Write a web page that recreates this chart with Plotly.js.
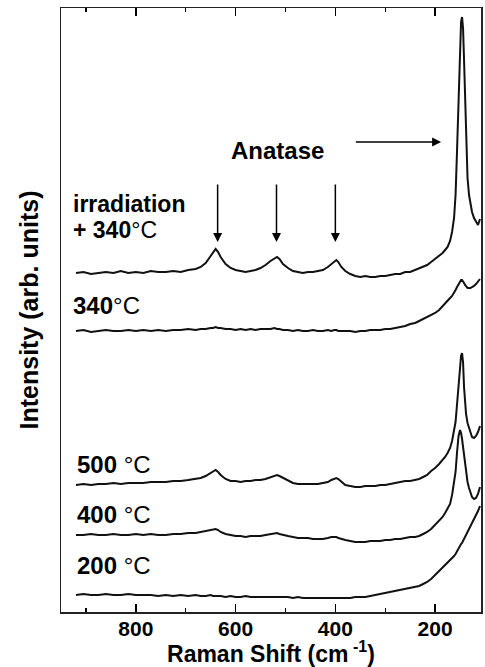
<!DOCTYPE html>
<html>
<head>
<meta charset="utf-8">
<script src="https://cdn.plot.ly/plotly-3.0.1.min.js"></script>
<style>html,body{margin:0;padding:0;background:#fff;}#chart{width:485px;height:667px;}</style>
</head>
<body>
<div id="chart"></div>
<script>
// Raman shift (cm^-1), shared by all spectra
const ramanShift = [920,905,890,875,860,845,830,815,800,785,770,755,740,725,710,695,680,
  670,660,650,645,640,635,630,620,610,600,
  590,580,570,560,550,540,530,522,517,512,505,
  495,485,475,465,455,445,435,425,415,408,402,398,394,388,380,
  370,360,350,340,330,320,310,300,290,280,270,260,250,240,232,224,216,208,200,
  192,185,180,175,170,166,162,159,156,153,150,148,146,144,142,140,138,135,132,129,126,122,118,114,110];

// Intensities (arb. units, offset stacked)
const irr340 = [339,340,338,339,340,339,341,339,340,339,341,340,340,341,340,342,343,
  345,349,356,360,363,360,355,348,344,342,
  341,340,341,342,344,347,351,354,355,353,348,
  344,341,340,339,340,340,341,342,345,348,351,352,350,345,341,
  338,336,335,336,335,335,336,336,337,338,338,340,340,342,343,345,347,350,353,
  356,359,362,365,371,380,394,417,462,517,567,590,595,584,552,512,467,434,417,407,400,394,390,387,393];

const t340 = [281,282,280,281,282,281,281,282,281,282,281,282,281,282,282,283,282,
  283,283,284,284,285,284,284,283,283,282,
  283,282,283,282,283,283,283,284,283,283,282,
  282,281,282,281,281,282,281,281,282,281,282,282,281,281,281,
  281,280,281,281,282,282,282,283,283,284,285,286,288,289,291,293,295,297,299,
  302,306,309,312,314,316,319,322,325,328,331,332,332,331,329,327,326,324,324,324,325,326,328,330,333];

const t500 = [127,128,127,128,128,129,128,129,129,129,130,130,130,131,131,132,133,
  134,136,139,141,142,140,137,133,131,131,
  130,131,131,132,132,133,135,136,137,136,134,
  131,129,128,128,128,128,128,129,130,132,133,134,133,130,127,
  126,125,125,126,126,126,127,127,128,129,130,131,131,132,133,135,137,141,144,
  148,152,155,159,164,171,180,190,208,230,248,256,259,250,225,208,198,189,184,178,175,174,176,180,186];

const t400 = [77,77,78,77,77,78,77,77,78,77,78,77,77,78,78,79,79,
  80,81,82,83,83,82,80,78,77,76,
  76,75,76,76,76,77,78,79,79,78,77,
  76,75,74,74,74,73,73,73,74,75,75,75,74,73,72,
  71,70,70,70,71,71,71,72,72,73,73,74,75,75,76,78,80,83,87,
  91,95,99,103,108,117,128,140,160,176,182,179,173,164,158,148,139,130,124,119,115,113,114,118,125];

const t200 = [17,18,17,17,18,17,17,18,17,17,17,16,17,16,17,16,17,
  16,16,17,16,16,16,16,15,16,15,
  15,16,15,15,15,15,15,15,15,15,15,
  15,14,15,14,14,14,14,14,14,14,14,14,14,14,14,
  14,15,15,15,16,17,18,19,20,21,22,23,24,25,26,28,30,33,37,
  41,44,46,49,51,53,56,58,61,63,66,68,69,71,73,75,77,80,83,86,88,93,97,101,106];

const seriesList = [irr340, t340, t500, t400, t200];
const xTickVals = [800, 600, 400, 200];
const xTickText = ['800', '600', '400', '200'];

const FONT = 'Liberation Sans, Arial, Helvetica, sans-serif';

const traces = seriesList.map(s => ({
  x: ramanShift, y: s, type: 'scatter', mode: 'lines',
  line: {color: '#111', width: 2}, hoverinfo: 'skip', showlegend: false
}));

function label(txt, x, y, size) {
  return {x: x, y: y, xref: 'x', yref: 'y', text: txt, showarrow: false,
    xanchor: 'left', yanchor: 'middle', font: {family: FONT, size: size || 24, color: '#000'}};
}
function vArrow(x) {
  return {x: x, y: 370, ax: x, ay: 429, xref: 'x', yref: 'y', axref: 'x', ayref: 'y',
    text: '', showarrow: true, arrowhead: 2, arrowsize: 1.2, arrowwidth: 1.5, arrowcolor: '#000'};
}

const layout = {
  width: 485, height: 667,
  margin: {l: 61, r: 4, t: 8, b: 55},
  paper_bgcolor: '#fff', plot_bgcolor: '#fff',
  xaxis: {
    range: [950, 108], showgrid: false, zeroline: false,
    tickvals: xTickVals, ticktext: xTickText,
    ticks: 'inside', ticklen: 8, tickwidth: 1.5, tickcolor: '#000',
    minor: {tickvals: [900, 700, 500, 300], ticks: 'inside', ticklen: 4, tickwidth: 1.2, tickcolor: '#000'},
    showline: true, linecolor: '#222', linewidth: 1.5, mirror: 'allticks',
    ticklabelstandoff: -3,
    tickfont: {family: FONT, size: 21, weight: 'bold', color: '#000'},
    title: {text: 'Raman Shift (cm<sup> -1</sup>)', standoff: 6,
      font: {family: FONT, size: 23, weight: 'bold', color: '#000'}}
  },
  yaxis: {
    range: [0, 604], showgrid: false, zeroline: false,
    showticklabels: false, ticks: '',
    showline: true, linecolor: '#222', linewidth: 1.5, mirror: true,
    title: {text: 'Intensity (arb. units)', standoff: 14,
      font: {family: FONT, size: 25, weight: 'bold', color: '#000'}}
  },
  annotations: [
    label('<b>irradiation</b>', 930, 408, 23),
    label('<b>+ 340</b>°C', 930, 382, 23),
    label('<b>340</b>°C', 930, 307),
    label('<b>500</b> °C', 922, 148),
    label('<b>400</b> °C', 922, 98),
    label('<b>200</b> °C', 922, 47),
    {x: 516, y: 462, xref: 'x', yref: 'y', text: '<b>Anatase</b>', showarrow: false,
      xanchor: 'center', yanchor: 'middle', font: {family: FONT, size: 24, color: '#000'}},
    vArrow(636), vArrow(518), vArrow(400),
    {x: 188, y: 470, ax: 362, ay: 470, xref: 'x', yref: 'y', axref: 'x', ayref: 'y',
      text: '', showarrow: true, arrowhead: 2, arrowsize: 1.2, arrowwidth: 1.5, arrowcolor: '#000'}
  ]
};

Plotly.newPlot('chart', traces, layout, {staticPlot: true, displayModeBar: false});
</script>
</body>
</html>
